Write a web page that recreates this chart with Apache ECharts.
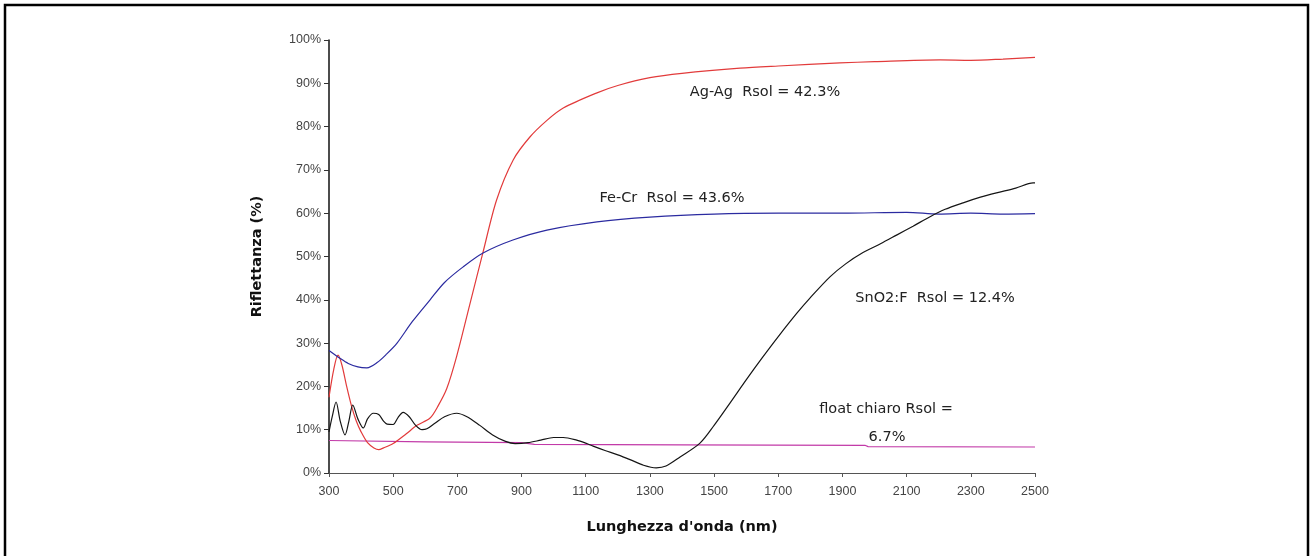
<!DOCTYPE html>
<html>
<head>
<meta charset="utf-8">
<script src="https://cdn.jsdelivr.net/npm/echarts@6/dist/echarts.min.js"></script>
<style>
html,body{margin:0;padding:0;background:#fff;}
#chart{width:1311px;height:556px;}
</style>
</head>
<body>
<div id="chart"></div>
<script>
// X axis tick labels (nm)
const xTicks = [300,500,700,900,1100,1300,1500,1700,1900,2100,2300,2500];

// Ag-Ag
const agWl  = [300,315,328,340,355,370,385,400,420,440,455,470,500,540,574,615,640,667,698,739,780,822,874,926,980,1030,1135,1200,1300,1400,1581,1700,1892,2000,2204,2300,2400,2500];
const agVal = [17.5,24,27.2,25,20,15.5,12,9.5,7,5.8,5.4,5.8,6.8,9,11,12.7,15.5,19.5,27,39,51,63,72.3,77.6,81.5,84.3,87.8,89.5,91.3,92.3,93.5,94,94.7,95,95.4,95.3,95.6,96];

// Fe-Cr
const fecrWl  = [300,334,360,390,418,450,480,512,560,615,660,718,780,873,979,1135,1300,1500,1700,1900,2100,2200,2300,2400,2500];
const fecrVal = [28.3,26.5,25.3,24.5,24.3,25.5,27.5,30,35,40,44,47.6,50.8,53.8,56.1,58,59.1,59.8,60,60,60.2,59.8,60,59.8,59.9];

// SnO2:F
const snoWl  = [300,310,322,335,350,362,374,390,407,420,438,455,470,481,500,515,531,550,570,590,605,630,660,698,730,770,810,850,880,920,960,1000,1030,1072,1100,1123,1160,1200,1238,1280,1320,1350,1394,1456,1500,1550,1600,1652,1700,1758,1800,1861,1910,1964,2020,2070,2120,2173,2220,2276,2330,2380,2440,2494,2500];
const snoVal = [9.5,13,16.4,12,8.8,12,15.7,12.5,10.4,12.5,13.8,13.5,12,11.3,11.2,12.8,14,13,11,10,10.2,11.5,13,13.8,13,11,8.8,7.3,6.8,7,7.6,8.2,8.2,7.6,6.9,6.2,5.2,4.2,3.1,1.8,1.2,1.6,3.7,6.9,11,16.2,21.5,26.8,31.5,36.9,40.5,45.3,48.3,50.9,53,55,57,59.2,60.9,62.4,63.7,64.7,65.8,67,67];

// float chiaro
const floatWl  = [300,600,900,940,1400,1970,1980,2500];
const floatVal = [7.5,7.2,7.0,6.6,6.5,6.4,6.1,6.0];

const labels = [
  {text:'Ag-Ag  Rsol = 42.3%', x:765, y:92},
  {text:'Fe-Cr  Rsol = 43.6%', x:672, y:198},
  {text:'SnO2:F  Rsol = 12.4%', x:935, y:298},
  {text:'float chiaro Rsol =', x:886, y:409},
  {text:'6.7%', x:887, y:437}
];

const X0 = xTicks[0];
function pairs(wl, v){ return wl.map((w,i)=>[w - X0, v[i]]); }

const chart = echarts.init(document.getElementById('chart'));
const lineStyle = (c)=>({color:c,width:1.2});
chart.setOption({
  animation:false,
  backgroundColor:'#fff',
  grid:{left:329,right:276,top:40,bottom:83},
  xAxis:{
    type:'value', min:0, max:xTicks[xTicks.length-1]-X0, interval:xTicks[1]-xTicks[0],
    name:"Lunghezza d'onda (nm)", nameLocation:'middle', nameGap:47,
    nameTextStyle:{fontFamily:'DejaVu Sans',fontWeight:'bold',fontSize:14.5,color:'#111'},
    axisLine:{lineStyle:{color:'#555',width:1}},
    axisTick:{show:true,length:4,lineStyle:{color:'#555'}},
    axisLabel:{formatter:(v)=>String(v+X0),color:'#444',fontFamily:'Liberation Sans',fontSize:12.5,margin:12},
    splitLine:{show:false}
  },
  yAxis:{
    type:'value', min:0, max:100, interval:10,
    name:'Riflettanza (%)', nameLocation:'middle', nameGap:64, nameRotate:90,
    nameTextStyle:{fontFamily:'DejaVu Sans',fontWeight:'bold',fontSize:14.5,color:'#111'},
    axisLine:{show:true,lineStyle:{color:'#111',width:1.5}},
    axisTick:{show:true,length:5,lineStyle:{color:'#333'}},
    axisLabel:{formatter:'{value}%',color:'#444',fontFamily:'Liberation Sans',fontSize:12.5,margin:8},
    splitLine:{show:false}
  },
  series:[
    {name:'Ag-Ag',type:'line',data:pairs(agWl,agVal),showSymbol:false,smooth:0.3,lineStyle:lineStyle('#e23b3b'),z:3},
    {name:'Fe-Cr',type:'line',data:pairs(fecrWl,fecrVal),showSymbol:false,smooth:0.3,lineStyle:lineStyle('#2b2ba0'),z:4},
    {name:'SnO2:F',type:'line',data:pairs(snoWl,snoVal),showSymbol:false,smooth:0.3,lineStyle:lineStyle('#151515'),z:5},
    {name:'float chiaro',type:'line',data:pairs(floatWl,floatVal),showSymbol:false,lineStyle:lineStyle('#c23aa8'),z:2}
  ],
  graphic:[
    {type:'rect',shape:{x:5,y:5,width:1303,height:600},style:{fill:'none',stroke:'#000',lineWidth:2.5},silent:true}
  ].concat(labels.map(l=>({
    type:'text', x:l.x, y:l.y,
    style:{text:l.text,fontFamily:'DejaVu Sans',fontSize:14.5,fill:'#222',align:'center',verticalAlign:'middle'}
  })))
});
</script>
</body>
</html>
